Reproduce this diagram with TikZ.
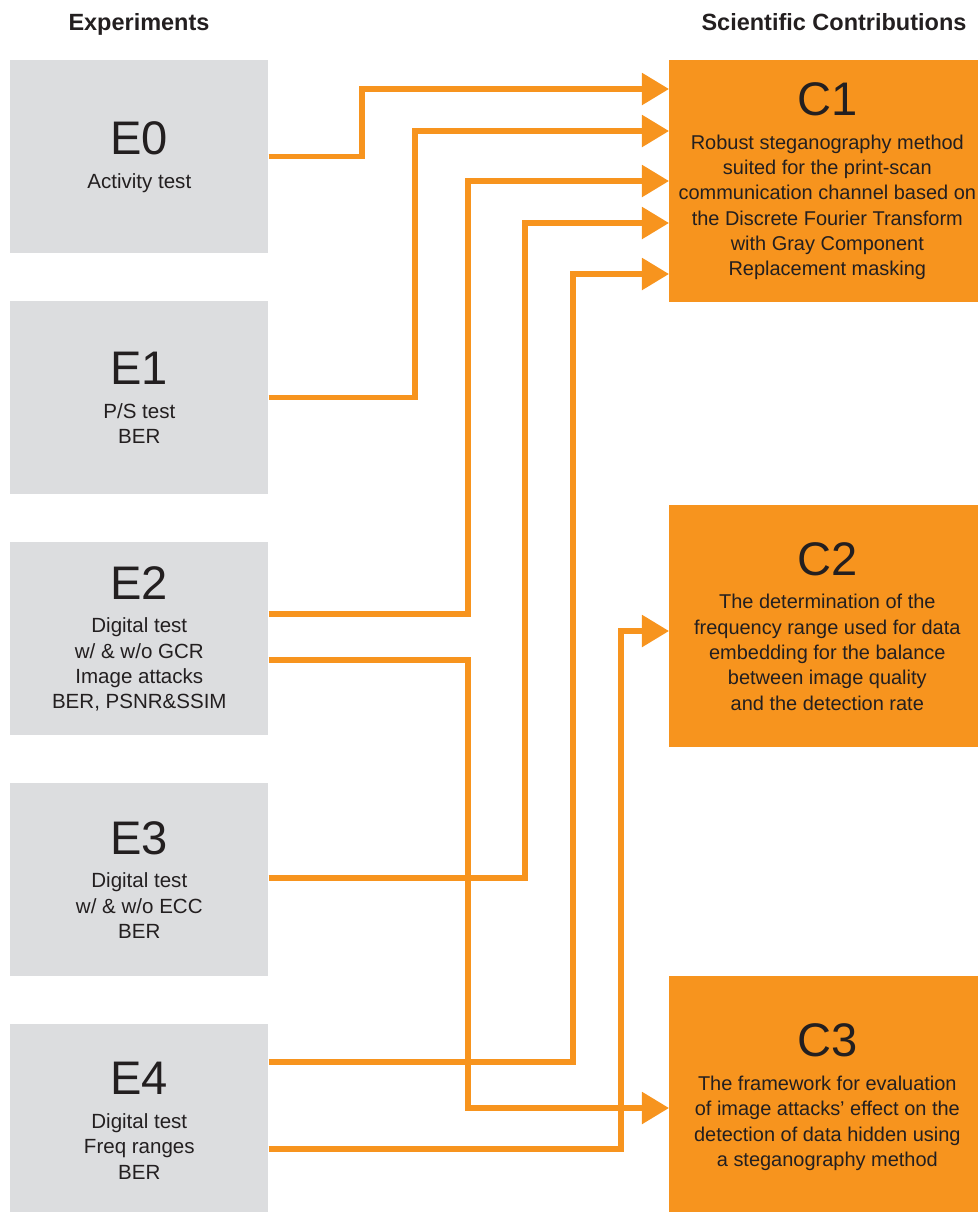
\documentclass[tikz,border=0pt]{standalone}
\usepackage{fontspec}
\setmainfont{Liberation Sans}
\usepackage{tikz}
\usetikzlibrary{arrows.meta}
\definecolor{expgray}{HTML}{DCDDDF}
\definecolor{conorange}{HTML}{F7941E}
\definecolor{txtdark}{HTML}{231F20}
\newcommand{\boxtitle}[1]{{\fontsize{33.5}{40}\selectfont #1}\\[6pt]}

\begin{document}
\begin{tikzpicture}[x=0.025cm,y=-0.025cm,line join=miter,
    every node/.style={text=txtdark,font=\fontsize{14.6}{18}\selectfont},
    expbox/.style={fill=expgray,anchor=north west,inner sep=0pt,align=center,minimum width=6.45cm,minimum height=4.825cm},
    conbox/.style={fill=conorange,anchor=north west,inner sep=0pt,align=center,minimum width=7.9cm,minimum height=6.05cm,font=\fontsize{14.2}{18}\selectfont},
    header/.style={anchor=base,font=\fontsize{16.7}{20}\selectfont\bfseries},
    link/.style={draw=conorange,line width=0.1325cm,-{Triangle[length=0.675cm,width=0.775cm]}}]
\useasboundingbox (0,0) rectangle (978,1212);

\node[header] (hexp) at (139,30.7) {Experiments};
\node[header] (hcon) at (834,30.7) {Scientific Contributions};

\node[expbox] (e0) at (10,60) {\boxtitle{E0}Activity test};
\node[expbox] (e1) at (10,301) {\boxtitle{E1}P/S test\\BER};
\node[expbox] (e2) at (10,542) {\boxtitle{E2}Digital test\\w/ \& w/o GCR\\Image attacks\\BER, PSNR\&SSIM};
\node[expbox] (e3) at (10,783) {\boxtitle{E3}Digital test\\w/ \& w/o ECC\\BER};
\node[expbox] (e4) at (10,1024) {\boxtitle{E4}Digital test\\Freq ranges\\BER};

\node[conbox] (c1) at (669,60) {\boxtitle{C1}Robust steganography method\\suited for the print-scan\\communication channel based on\\the Discrete Fourier Transform\\with Gray Component\\Replacement masking};
\node[conbox] (c2) at (669,505) {\boxtitle{C2}The determination of the\\frequency range used for data\\embedding for the balance\\between image quality\\and the detection rate};
\node[conbox] (c3) at (669,976) {\boxtitle{C3}The framework for evaluation\\of image attacks' effect on the\\detection of data hidden using\\a steganography method};

\draw[link] (e0.east) -| (362,89) -- (c1.west |- 0,89);
\draw[link] (e1.east) -| (415,131) -- (c1.west |- 0,131);
\draw[link] (e2.east |- 0,614) -| (468,181) -- (c1.west |- 0,181);
\draw[link] (e3.east |- 0,878) -| (525,223) -- (c1.west |- 0,223);
\draw[link] (e4.east |- 0,1062) -| (573,274) -- (c1.west |- 0,274);
\draw[link] (e2.east |- 0,660) -| (468,1108) -- (c3.west |- 0,1108);
\draw[link] (e4.east |- 0,1149) -| (621,631) -- (c2.west |- 0,631);
\end{tikzpicture}
\end{document}
